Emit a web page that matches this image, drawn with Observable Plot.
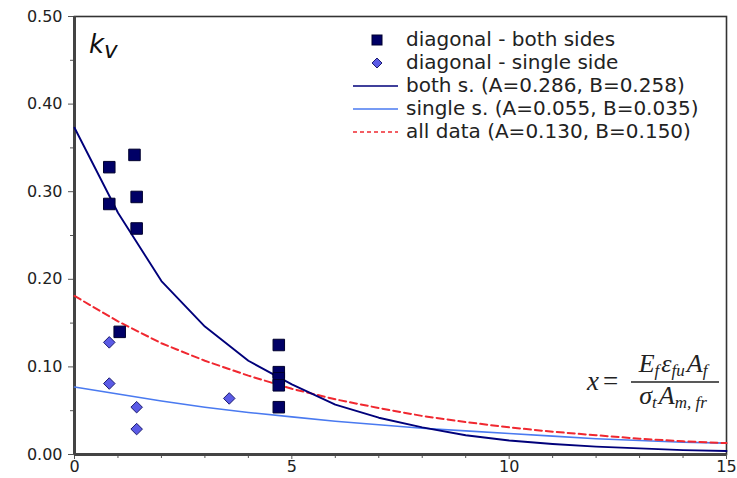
<!DOCTYPE html>
<html>
<head>
<meta charset="utf-8">
<script src="https://cdn.jsdelivr.net/npm/d3@7"></script>
<script src="https://cdn.jsdelivr.net/npm/@observablehq/plot@0.6"></script>
<style>
  html, body { margin: 0; padding: 0; background: #fff; }
  svg { display: block; }
</style>
</head>
<body>
<div id="chart"></div>
<script>
// ---- data ----
const bothX = [0.8, 0.8, 1.38, 1.43, 1.43, 1.04, 4.7, 4.7, 4.7, 4.7, 4.7];
const bothY = [0.328, 0.286, 0.342, 0.294, 0.258, 0.140, 0.125, 0.094, 0.087, 0.079, 0.054];
const singleX = [0.8, 0.8, 1.43, 1.43, 3.56];
const singleY = [0.128, 0.081, 0.054, 0.029, 0.064];
const fitX = [0, 1, 2, 3, 4, 5, 6, 7, 8, 9, 10, 11, 12, 13, 14, 15];
const fitBoth = [0.373, 0.276, 0.198, 0.146, 0.107, 0.080, 0.057, 0.042, 0.031, 0.022, 0.016, 0.012, 0.009, 0.007, 0.005, 0.004];
const fitSingle = [0.077, 0.069, 0.061, 0.054, 0.048, 0.043, 0.038, 0.034, 0.030, 0.027, 0.024, 0.021, 0.018, 0.016, 0.014, 0.013];
const fitAll = [0.181, 0.152, 0.127, 0.107, 0.090, 0.075, 0.063, 0.053, 0.044, 0.037, 0.031, 0.026, 0.022, 0.018, 0.015, 0.013];
const xTicks = [0, 5, 10, 15];
const xMinorTicks = [1, 2, 3, 4, 6, 7, 8, 9, 11, 12, 13, 14];
const yTicks = [0, 0.1, 0.2, 0.3, 0.4, 0.5];
const yMinorTicks = [0.05, 0.15, 0.25, 0.35, 0.45];
const legendLabels = [
  "diagonal - both sides",
  "diagonal - single side",
  "both s. (A=0.286, B=0.258)",
  "single s. (A=0.055, B=0.035)",
  "all data (A=0.130, B=0.150)"
];

const C = {
  both: "#000066", bothStroke: "#00002e",
  single: "#5b5be6", singleStroke: "#1c1c70",
  lineBoth: "#00007a", lineSingle: "#4a7af0", lineAll: "#f02830"
};

const plot = Plot.plot({
  width: 737, height: 478,
  marginLeft: 74, marginRight: 11, marginTop: 16, marginBottom: 24,
  x: { domain: [0, 15] },
  y: { domain: [0, 0.5] },
  style: { fontFamily: "DejaVu Sans", fontSize: "16px", color: "#222", background: "#fff" },
  marks: [
    Plot.frame({ stroke: "#333", strokeWidth: 1.6 }),
    Plot.axisY({ ticks: yMinorTicks, tickSize: 4, tickFormat: () => "", label: null, stroke: "#555" }),
    Plot.axisY({ ticks: yTicks, tickSize: 6, tickPadding: 6, tickFormat: d3.format(".2f"), label: null, fontSize: 16, stroke: "#555" }),
    Plot.axisX({ ticks: xMinorTicks, tickSize: 4, tickFormat: () => "", label: null, stroke: "#555" }),
    Plot.axisX({ ticks: xTicks, tickSize: 5, tickPadding: 1, label: null, fontSize: 16, stroke: "#555" }),
    Plot.ruleX([0], { stroke: "#444", strokeWidth: 3 }),
    Plot.ruleY([0], { stroke: "#444", strokeWidth: 3 }),
    Plot.line(fitX, { x: fitX, y: fitSingle, stroke: C.lineSingle, strokeWidth: 1.6 }),
    Plot.line(fitX, { x: fitX, y: fitAll, stroke: C.lineAll, strokeWidth: 2, strokeDasharray: "7,4" }),
    Plot.line(fitX, { x: fitX, y: fitBoth, stroke: C.lineBoth, strokeWidth: 1.9 }),
    Plot.dot(bothX, { x: bothX, y: bothY, symbol: "square", r: 6.5, fill: C.both, stroke: C.bothStroke, strokeWidth: 1 }),
    Plot.dot(singleX, { x: singleX, y: singleY, symbol: "diamond2", r: 5.2, fill: C.single, stroke: C.singleStroke, strokeWidth: 1 })
  ]
});
document.getElementById("chart").appendChild(plot);

const svg = d3.select(plot);

// k_v label
const kv = svg.append("text").attr("x", 89).attr("y", 53).attr("text-anchor", "start")
  .attr("font-family", "DejaVu Sans").attr("font-style", "italic").attr("fill", "#111");
kv.append("tspan").attr("font-size", 26).text("k");
kv.append("tspan").attr("font-size", 23).attr("dy", 5).text("v");

// legend
const lg = svg.append("g").attr("font-family", "DejaVu Sans").attr("font-size", 20)
  .attr("fill", "#222").attr("text-anchor", "start");
legendLabels.forEach((label, i) => {
  const base = 46 + 23 * i;
  lg.append("text").attr("x", 406).attr("y", base).text(label);
  const cy = base - 6;
  if (i === 0) {
    lg.append("rect").attr("x", 372).attr("y", cy - 5).attr("width", 10).attr("height", 10)
      .attr("fill", C.both).attr("stroke", C.bothStroke).attr("stroke-width", 1);
  } else if (i === 1) {
    lg.append("path").attr("d", `M377,${cy - 5}L382,${cy}L377,${cy + 5}L372,${cy}Z`)
      .attr("fill", C.single).attr("stroke", C.singleStroke).attr("stroke-width", 1);
  } else {
    const col = [C.lineBoth, C.lineSingle, C.lineAll][i - 2];
    const ln = lg.append("line").attr("x1", 353).attr("x2", 398).attr("y1", cy).attr("y2", cy)
      .attr("stroke", col).attr("stroke-width", 1.5);
    if (i === 4) ln.attr("stroke-dasharray", "4,3");
  }
});

// formula annotation
const fm = svg.append("g").attr("font-family", "Liberation Serif").attr("font-style", "italic")
  .attr("fill", "#222").attr("text-anchor", "start");
fm.append("text").attr("x", 587).attr("y", 390).attr("font-size", 27).text("x");
fm.append("text").attr("x", 603).attr("y", 390).attr("font-size", 27).attr("font-style", "normal").text("=");
fm.append("line").attr("x1", 631).attr("x2", 719).attr("y1", 382).attr("y2", 382).attr("stroke", "#222").attr("stroke-width", 1.4);
const num = fm.append("text").attr("x", 673).attr("y", 372).attr("font-size", 26).attr("text-anchor", "middle");
num.append("tspan").text("E");
num.append("tspan").attr("font-size", 17).attr("dy", 4).text("f");
num.append("tspan").attr("dy", -4).attr("dx", 2).text("ε");
num.append("tspan").attr("font-size", 17).attr("dy", 4).text("fu");
num.append("tspan").attr("dy", -4).attr("dx", 2).text("A");
num.append("tspan").attr("font-size", 17).attr("dy", 4).text("f");
const den = fm.append("text").attr("x", 673).attr("y", 404).attr("font-size", 26).attr("text-anchor", "middle");
den.append("tspan").text("σ");
den.append("tspan").attr("font-size", 17).attr("dy", 4).text("t");
den.append("tspan").attr("dy", -4).attr("dx", 2).text("A");
den.append("tspan").attr("font-size", 17).attr("dy", 4).text("m, fr");
</script>
</body>
</html>
